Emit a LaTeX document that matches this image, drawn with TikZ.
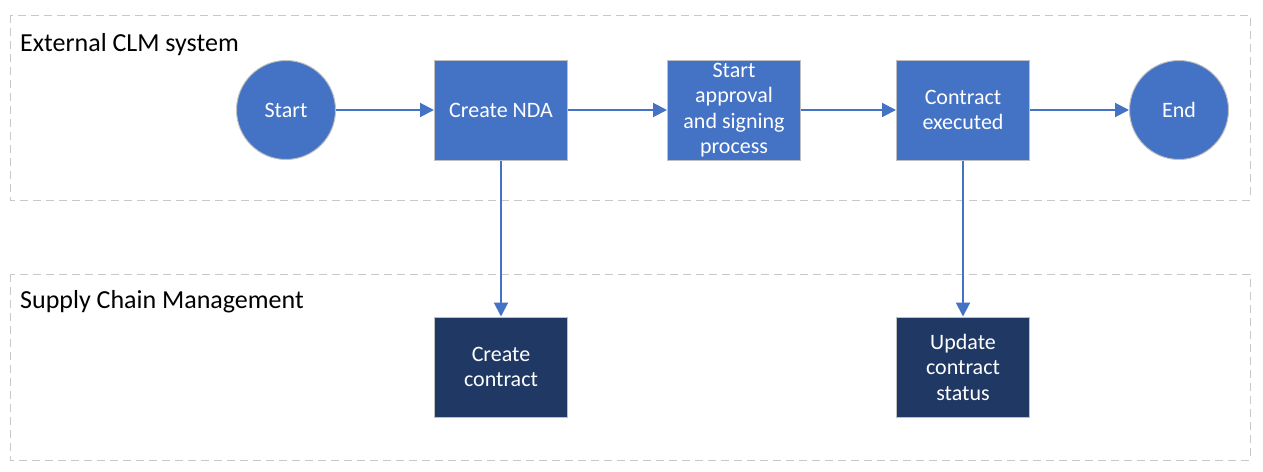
\documentclass[tikz,border=0pt]{standalone}
\usepackage{fontspec}
\setmainfont{Carlito}
\usetikzlibrary{arrows.meta}
\definecolor{stepblue}{HTML}{4472C4}
\definecolor{navy}{HTML}{203864}
\definecolor{lanegray}{HTML}{C8C8C8}
\tikzstyle{lane}=[draw=lanegray,line width=1pt,dash pattern=on 8pt off 5pt]
\tikzstyle{lanetitle}=[anchor=west,inner sep=0pt,font=\fontsize{26}{31}\selectfont]
\tikzstyle{rnd}=[circle,fill=stepblue,draw=black!25,line width=1pt,minimum size=99pt,inner sep=0pt,text=white,font=\fontsize{22}{25.5}\selectfont]
\tikzstyle{bx}=[rectangle,fill=stepblue,draw=black!25,line width=1pt,minimum width=133pt,minimum height=100pt,inner sep=0pt,align=center,text=white,font=\fontsize{22}{25.5}\selectfont]
\tikzstyle{sbx}=[bx,fill=navy]
\tikzstyle{flow}=[draw=stepblue,line width=2pt,-{Triangle[length=14pt,width=14pt]}]

\begin{document}
\begin{tikzpicture}[x=1pt,y=-1pt]
\useasboundingbox (0,0) rectangle (1263,471);
\draw[lane] (10,15) rectangle (1250,200);
\draw[lane] (10,274) rectangle (1250,460);
\node[lanetitle] (ext) at (20,45) {External CLM system};
\node[lanetitle] (scm) at (20,302) {Supply Chain Management};
\node[rnd] (start) at (286,110) {Start};
\node[bx] (nda) at (501,110) {Create NDA};
\node[bx] (appr) at (734,110) {Start\\approval\\and signing\\process};
\node[bx] (exec) at (963,110) {Contract\\executed};
\node[rnd] (stop) at (1179,110) {End};
\node[sbx] (cc) at (501,367) {Create\\contract};
\node[sbx] (upd) at (963,367) {Update\\contract\\status};
\foreach \a/\b in {start/nda,nda/appr,appr/exec,exec/stop,nda/cc,exec/upd}
  \draw[flow] (\a) -- (\b);
\end{tikzpicture}
\end{document}
